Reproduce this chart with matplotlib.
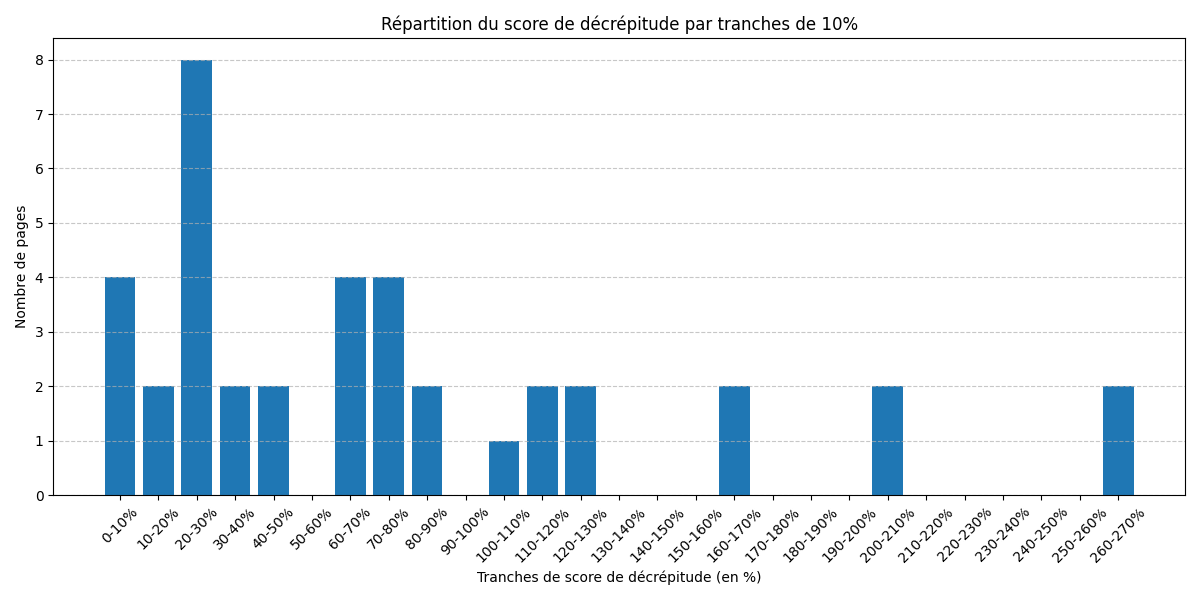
import matplotlib
matplotlib.use("Agg")
import matplotlib.pyplot as plt

# tranches de 10% et nombre de pages par tranche
tranches = ["%d-%d%%" % (i * 10, (i + 1) * 10) for i in range(27)]
nb_pages = [4, 2, 8, 2, 2, 0, 4, 4, 2, 0, 1, 2, 2, 0, 0, 0, 2, 0, 0, 0, 2,
            0, 0, 0, 0, 0, 2]

fig, ax = plt.subplots(figsize=(12, 6), dpi=100)
ax.bar(tranches, nb_pages, color="#1f77b4")
ax.set_title("Répartition du score de décrépitude par tranches de 10%")
ax.set_xlabel("Tranches de score de décrépitude (en %)")
ax.set_ylabel("Nombre de pages")
ax.grid(axis="y", linestyle="--", alpha=0.7)
plt.xticks(rotation=45)
plt.tight_layout()
plt.savefig("out.png")
